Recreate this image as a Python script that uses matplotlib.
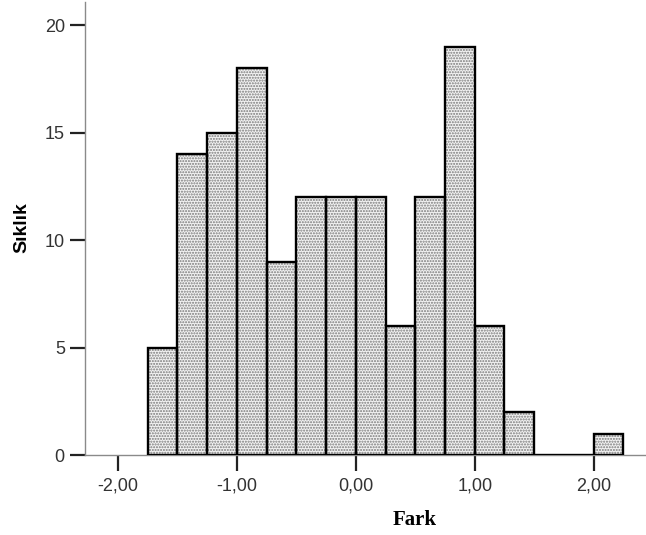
import numpy as np
import matplotlib
matplotlib.use("Agg")
import matplotlib.pyplot as plt

# bin edges (width 0.25) and counts
bin_left = [-1.75, -1.50, -1.25, -1.00, -0.75, -0.50, -0.25, 0.00,
            0.25, 0.50, 0.75, 1.00, 1.25, 1.50, 1.75, 2.00]
counts = [5, 14, 15, 18, 9, 12, 12, 12, 6, 12, 19, 6, 2, 0, 0, 1]
bin_width = 0.25
x_ticks = [-2, -1, 0, 1, 2]
x_tick_labels = ["-2,00", "-1,00", "0,00", "1,00", "2,00"]
y_ticks = [0, 5, 10, 15, 20]

plt.rcParams['hatch.linewidth'] = 1.0

fig = plt.figure(figsize=(6.46, 5.35), dpi=100)
ax = fig.add_axes([0.1316, 0.1495, 0.8684, 0.8465])

# dotted fill first, then black outlines on top
ax.bar(bin_left, counts, width=bin_width, align='edge', color='#f2f2f2',
       edgecolor='#7a7a7a', hatch='......', linewidth=0, zorder=2)
ax.bar(bin_left, counts, width=bin_width, align='edge', fill=False,
       edgecolor='black', linewidth=1.7, zorder=3)

ax.set_xlim(-2.277, 2.44)
ax.set_ylim(0, 21.07)

for side in ['top', 'right']:
    ax.spines[side].set_visible(False)
for side in ['left', 'bottom']:
    ax.spines[side].set_color('#8a8a8a')
    ax.spines[side].set_linewidth(1.0)

ax.set_xticks(x_ticks)
ax.set_xticklabels(x_tick_labels)
ax.set_yticks(y_ticks)
ax.tick_params(axis='x', direction='out', length=11.5, width=1.6, color='#222222',
               labelsize=13, labelcolor='#333333', pad=5)
ax.tick_params(axis='y', direction='out', length=11, width=1.6, color='#222222',
               labelsize=13, labelcolor='#333333', pad=3.5)
for lbl in ax.get_xticklabels() + ax.get_yticklabels():
    lbl.set_family('Liberation Sans')

fig.text(415 / 646, 1 - 520 / 535, "Fark", ha='center', va='center',
         fontsize=15, fontweight='bold', family='Liberation Serif')
fig.text(22 / 646, 1 - 228 / 535, "Sıklık", ha='center', va='center',
         rotation=90, fontsize=14, fontweight='bold', family='Liberation Sans')

fig.savefig("out.png", dpi=100)
